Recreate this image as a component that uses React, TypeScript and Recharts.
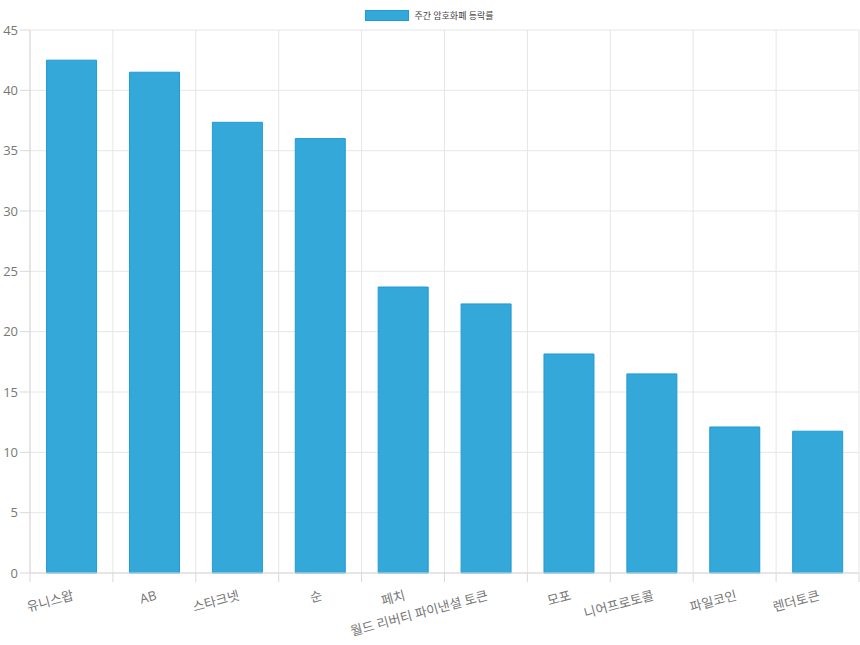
import { Bar, BarChart, CartesianGrid, Legend, XAxis, YAxis } from "recharts";

const coins = ["유니스왑", "AB", "스타크넷", "순", "페치", "월드 리버티 파이낸셜 토큰", "모포", "니어프로토콜", "파일코인", "렌더토큰"];
const changes = [42.5, 41.5, 37.35, 36.0, 23.7, 22.3, 18.15, 16.5, 12.1, 11.75];
const yTicks = [0, 5, 10, 15, 20, 25, 30, 35, 40, 45];
const seriesName = "주간 암호화폐 등락률";

const data = coins.map((name, i) => ({ name, value: changes[i] }));

const FONT = "'Open Sans', 'Noto Sans CJK KR', sans-serif";
const BAR_FILL = "#33a8d9";
const BAR_STROKE = "#1f9bd6";

function XTick(props: any) {
    const { x, y, payload, index } = props;
    const half = payload.offset ?? 0;
    return (
        <g>
            <line x1={x - half} y1={y - 11} x2={x - half} y2={y - 2} stroke="#d9d9d9" />
            {index === coins.length - 1 && (
                <line x1={x + half} y1={y - 11} x2={x + half} y2={y - 2} stroke="#d9d9d9" />
            )}
            <text
                x={0}
                y={0}
                transform={`translate(${x + 2}, ${y + 12}) rotate(-15)`}
                textAnchor="end"
                dominantBaseline="middle"
                fill="#777"
                fontSize={13}
                fontFamily={FONT}
            >
                {payload.value}
            </text>
        </g>
    );
}

function LegendBox() {
    return (
        <div style={{ display: "flex", justifyContent: "center", alignItems: "center", height: 10, paddingTop: 10, paddingBottom: 10 }}>
            <span style={{ width: 42, height: 9, background: BAR_FILL, border: `1px solid ${BAR_STROKE}`, marginRight: 5 }} />
            <span style={{ fontSize: 9, color: "#444", fontFamily: FONT }}>{seriesName}</span>
        </div>
    );
}

export default function App() {
    return (
        <div style={{ position: "absolute", left: 0, top: 0, width: 860, height: 645, background: "#fff" }}>
            <BarChart width={860} height={645} data={data} margin={{ top: 0, right: 1, bottom: 0, left: 0 }} barCategoryGap="20%">
                <Legend verticalAlign="top" align="center" content={() => <LegendBox />} />
                <CartesianGrid
                    stroke="#e6e6e6"
                    verticalCoordinatesGenerator={({ offset }: any) =>
                        coins.map((_, i) => offset.left + (offset.width * i) / coins.length).concat(offset.left + offset.width)
                    }
                />
                <XAxis
                    dataKey="name"
                    interval={0}
                    tickLine={false}
                    tickSize={9}
                    axisLine={{ stroke: "#d9d9d9" }}
                    tick={<XTick />}
                    height={72}
                />
                <YAxis
                    width={30}
                    domain={[0, 45]}
                    ticks={yTicks}
                    tickSize={10}
                    tickMargin={2}
                    tickLine={{ stroke: "#d9d9d9" }}
                    axisLine={{ stroke: "#d9d9d9" }}
                    tick={{ fill: "#777", fontSize: 13, fontFamily: FONT }}
                />
                <Bar dataKey="value" name={seriesName} fill={BAR_FILL} stroke={BAR_STROKE} strokeWidth={1} isAnimationActive={false} />
            </BarChart>
        </div>
    );
}
